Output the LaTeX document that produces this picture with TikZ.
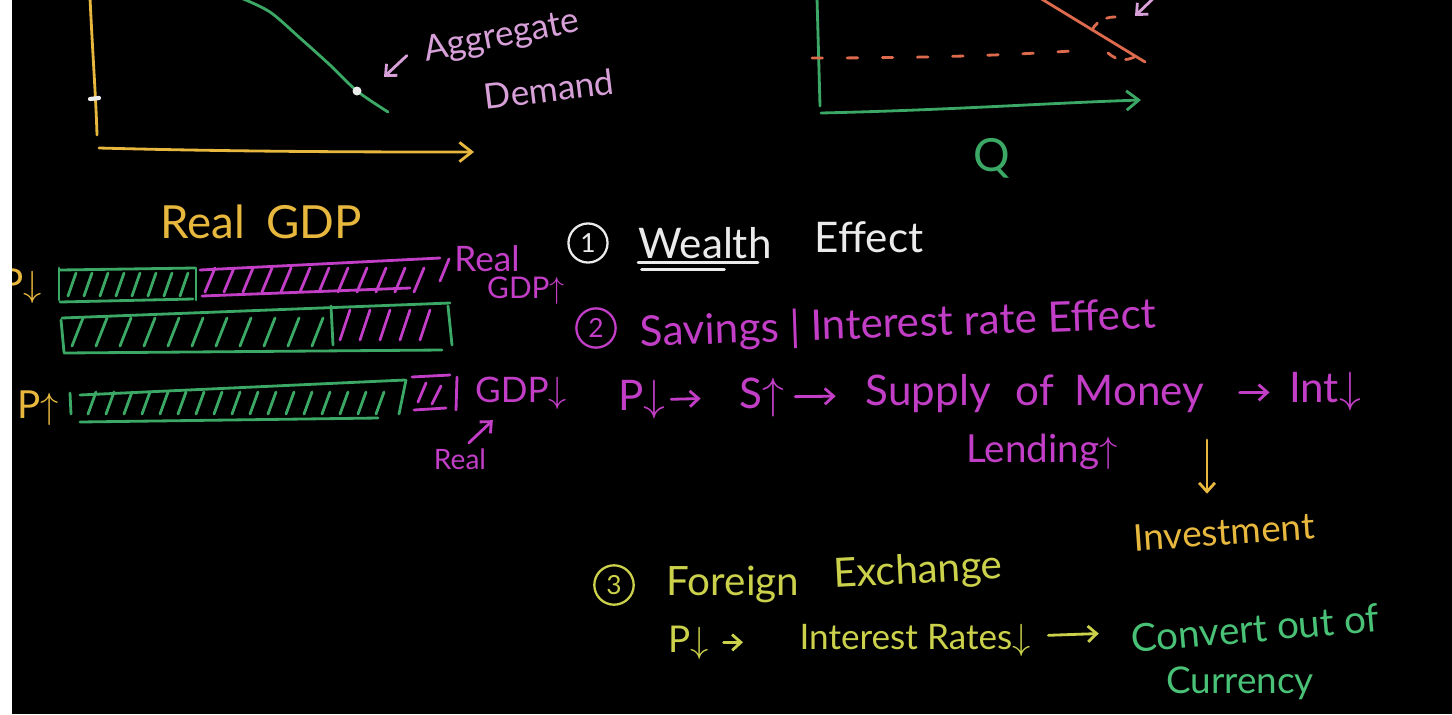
\documentclass[tikz,border=0pt]{standalone}
\usepackage{fontspec}
\setmainfont{Lato}
\usepackage{xcolor}
\usetikzlibrary{arrows.meta,positioning}

\definecolor{inkYellow}{HTML}{E8B83E}
\definecolor{inkGreen}{HTML}{3CA866}
\definecolor{inkMagenta}{HTML}{C23EC6}
\definecolor{inkPink}{HTML}{D7A0D9}
\definecolor{inkWhite}{HTML}{EBEBEB}
\definecolor{inkSalmon}{HTML}{DD6A4C}
\definecolor{inkLime}{HTML}{CBD14A}
\definecolor{inkMint}{HTML}{49C176}

\begin{document}
\begin{tikzpicture}[x=0.02cm,y=-0.02cm,
stroke/.style={line width=1.6pt,line cap=round,line join=round},
hw/.style={inner sep=0pt,font=\fontsize{#1}{#1}\selectfont},
hw/.default=24,
barb/.style={-{Straight Barb[length=5pt,width=9pt]}},
bigBarb/.style={-{Straight Barb[length=7pt,width=11pt]}},
numCircle/.style={draw,circle,line width=1.3pt,inner sep=3pt,font=\fontsize{15}{15}\selectfont},
dashInk/.style={stroke,dash pattern=on 6pt off 14pt}]
\useasboundingbox (0,0) rectangle (1452,714);
\fill[black] (12,0) rectangle (1452,714);

% top left graph
\draw[stroke,inkYellow] (90,-2) .. controls (93,60) and (96,100) .. (97,135);
\draw[stroke,inkWhite,line width=2.4pt] (90,99) -- (99,98);
\draw[stroke,inkYellow,bigBarb] (99,148) .. controls (250,152) and (380,152) .. (474,152);
\draw[stroke,inkGreen] plot[smooth] coordinates {(241,-2) (270,12) (300,38) (330,65) (357,91) (388,112)};
\fill[inkWhite] (357,91) circle (4.5);
\node[hw=20,inkPink,rotate=11] (aggLabel) at (502,37) {Aggregate};
\node[hw=20,inkPink,rotate=7] (demLabel) at (549,89) {Demand};
\coordinate (adPoint) at (384,77);
\draw[stroke,inkPink,barb] ([xshift=-10pt,yshift=-2pt]aggLabel.west) -- (adPoint);

% top right graph
\draw[stroke,inkGreen] (817,-2) -- (820,106);
\draw[stroke,inkGreen,bigBarb] (821,113) .. controls (950,110) and (1050,103) .. (1141,100);
\node[hw=26,inkGreen] (qLabel) at (992,158) {Q};
\draw[stroke,inkSalmon] (1040,-2) -- (1145,62);
\draw[dashInk,inkSalmon] (812,58) .. controls (950,58) and (1030,54) .. (1085,50);
\draw[dashInk,inkSalmon,dash pattern=on 5pt off 6pt] (1092,30) .. controls (1098,18) and (1112,15) .. (1124,18);
\draw[dashInk,inkSalmon,dash pattern=on 5pt off 6pt] (1108,53) .. controls (1118,62) and (1130,62) .. (1142,52);
\draw[stroke,inkPink,barb] (1160,-8) -- (1135,16);

% bars
\node[hw=26,inkYellow] (realGdp) at (261,222) {Real\hspace{12pt}GDP};

\draw[stroke,inkGreen] (59,268) -- (59,300);
\draw[stroke,inkGreen] (60,270) -- (195,268);
\draw[stroke,inkGreen] (60,302) -- (193,299);
\draw[stroke,inkGreen] (196,268) -- (196,300);
\foreach \x in {68,84,...,180} \draw[stroke,inkGreen] (\x,296) -- (\x+8,273);
\draw[stroke,inkMagenta] (200,270) -- (440,258);
\draw[stroke,inkMagenta] (202,296) -- (410,288);
\foreach \x in {205,224,...,420} \draw[stroke,inkMagenta] (\x,292) -- (\x+10,268);
\draw[stroke,inkMagenta] (440,281) -- (449,259);
\node[hw=22,inkYellow,anchor=east] (pDownA) at (42,286) {P$\downarrow$};
\node[hw=20,inkMagenta] (realA) at (487,259) {Real};
\node[hw=17,inkMagenta] (gdpUp) at (526,291) {GDP$\uparrow$};

\draw[stroke,inkGreen] (62,318) -- (450,303);
\draw[stroke,inkGreen] (61,320) -- (64,352);
\draw[stroke,inkGreen] (64,353) -- (442,350);
\draw[stroke,inkGreen] (331,306) -- (333,345);
\foreach \x in {72,96,...,312} \draw[stroke,inkGreen] (\x,346) -- (\x+11,318);
\foreach \x in {340,360,...,430} \draw[stroke,inkMagenta] (\x,340) -- (\x+10,310);
\draw[stroke,inkGreen] (448,306) -- (452,345);

\node[hw=22,inkYellow] (pUpB) at (38,408) {P$\uparrow$};
\draw[stroke,inkGreen] (70,393) -- (71,414);
\draw[stroke,inkGreen] (80,395) -- (405,380);
\draw[stroke,inkGreen] (80,422) -- (378,418);
\foreach \x in {88,106,...,380} \draw[stroke,inkGreen] (\x,414) -- (\x+8,392);
\draw[stroke,inkGreen] (399,414) -- (406,380);
\draw[stroke,inkMagenta] (412,377) -- (450,375);
\draw[stroke,inkMagenta] (414,410) -- (446,408);
\draw[stroke,inkMagenta] (418,402) -- (426,383);
\draw[stroke,inkMagenta] (432,404) -- (441,386);
\draw[stroke,inkMagenta] (457,377) -- (456,410);
\node[hw=20,inkMagenta] (gdpDown) at (521,393) {GDP$\downarrow$};
\node[hw=16,inkMagenta] (realB) at (460,459) {Real};
\draw[stroke,inkMagenta,barb] ([xshift=5pt,yshift=3pt]realB.north) -- ([xshift=-16pt,yshift=-6pt]gdpDown.south);

% (1) wealth effect
\node[numCircle,inkWhite] (numOne) at (588,243) {1};
\node[hw=24,inkWhite] (wealthWord) at (705,243) {Wealth};
\draw[stroke,inkWhite] ([yshift=-2pt]wealthWord.south west) -- ([xshift=-8pt,yshift=-2pt]wealthWord.south east);
\draw[stroke,inkWhite] ([xshift=2pt,yshift=-6pt]wealthWord.south west) -- ([xshift=-27pt,yshift=-6pt]wealthWord.south east);
\node[hw=24,inkWhite] (effectOne) at (869,237) {Effect};

% (2) savings / interest rate effect
\node[numCircle,inkMagenta] (numTwo) at (596,328) {2};
\node[hw=24,inkMagenta,rotate=2] (savingsLine) at (898,325) {Savings | Interest rate Effect};
\node[hw=24,inkMagenta] (pDownC) at (642,400) {P$\downarrow$};
\node[hw=24,inkMagenta] (sUp) at (762,397) {S$\uparrow$};
\node[hw=24,inkMagenta] (moneySupply) at (1035,394) {Supply\hspace{14pt}of\hspace{12pt}Money};
\node[hw=24,inkMagenta] (intDown) at (1325,392) {Int$\downarrow$};
\draw[stroke,inkMagenta,barb,shorten <=3pt,shorten >=22pt] (pDownC) -- (sUp);
\draw[stroke,inkMagenta,barb,shorten <=6pt,shorten >=17pt] (sUp) -- (moneySupply);
\draw[stroke,inkMagenta,barb,shorten <=20pt,shorten >=11pt] (moneySupply) -- (intDown);
\node[hw=22,inkMagenta] (lendingUp) at (1042,452) {Lending$\uparrow$};
\node[hw=21,inkYellow,rotate=4] (investWord) at (1224,532) {Investment};
\coordinate (investStart) at (1207,440);
\draw[stroke,inkYellow,barb,shorten >=14pt] (investStart) -- (investStart |- investWord.north);

% (3) foreign exchange
\node[numCircle,inkLime] (numThree) at (614,585) {3};
\node[hw=23,inkLime] (foreignWord) at (733,584) {Foreign};
\node[hw=23,inkLime,rotate=3] (exchangeWord) at (918,572) {Exchange};
\node[hw=21,inkLime] (pDownD) at (689,643) {P$\downarrow$};
\node[hw=20,inkLime] (interestRates) at (915,640) {Interest Rates$\downarrow$};
\node[hw=22,inkMint,rotate=5] (convertWord) at (1255,628) {Convert out of};
\node[hw=21,inkMint] (currencyWord) at (1240,683) {Currency};
\draw[stroke,inkLime,barb,shorten <=8pt,shorten >=32pt] (pDownD) -- (interestRates);
\draw[stroke,inkLime,barb,shorten <=10pt,shorten >=18pt] (interestRates) -- (convertWord);

\fill[white] (0,0) rectangle (12,714);
\end{tikzpicture}
\end{document}
